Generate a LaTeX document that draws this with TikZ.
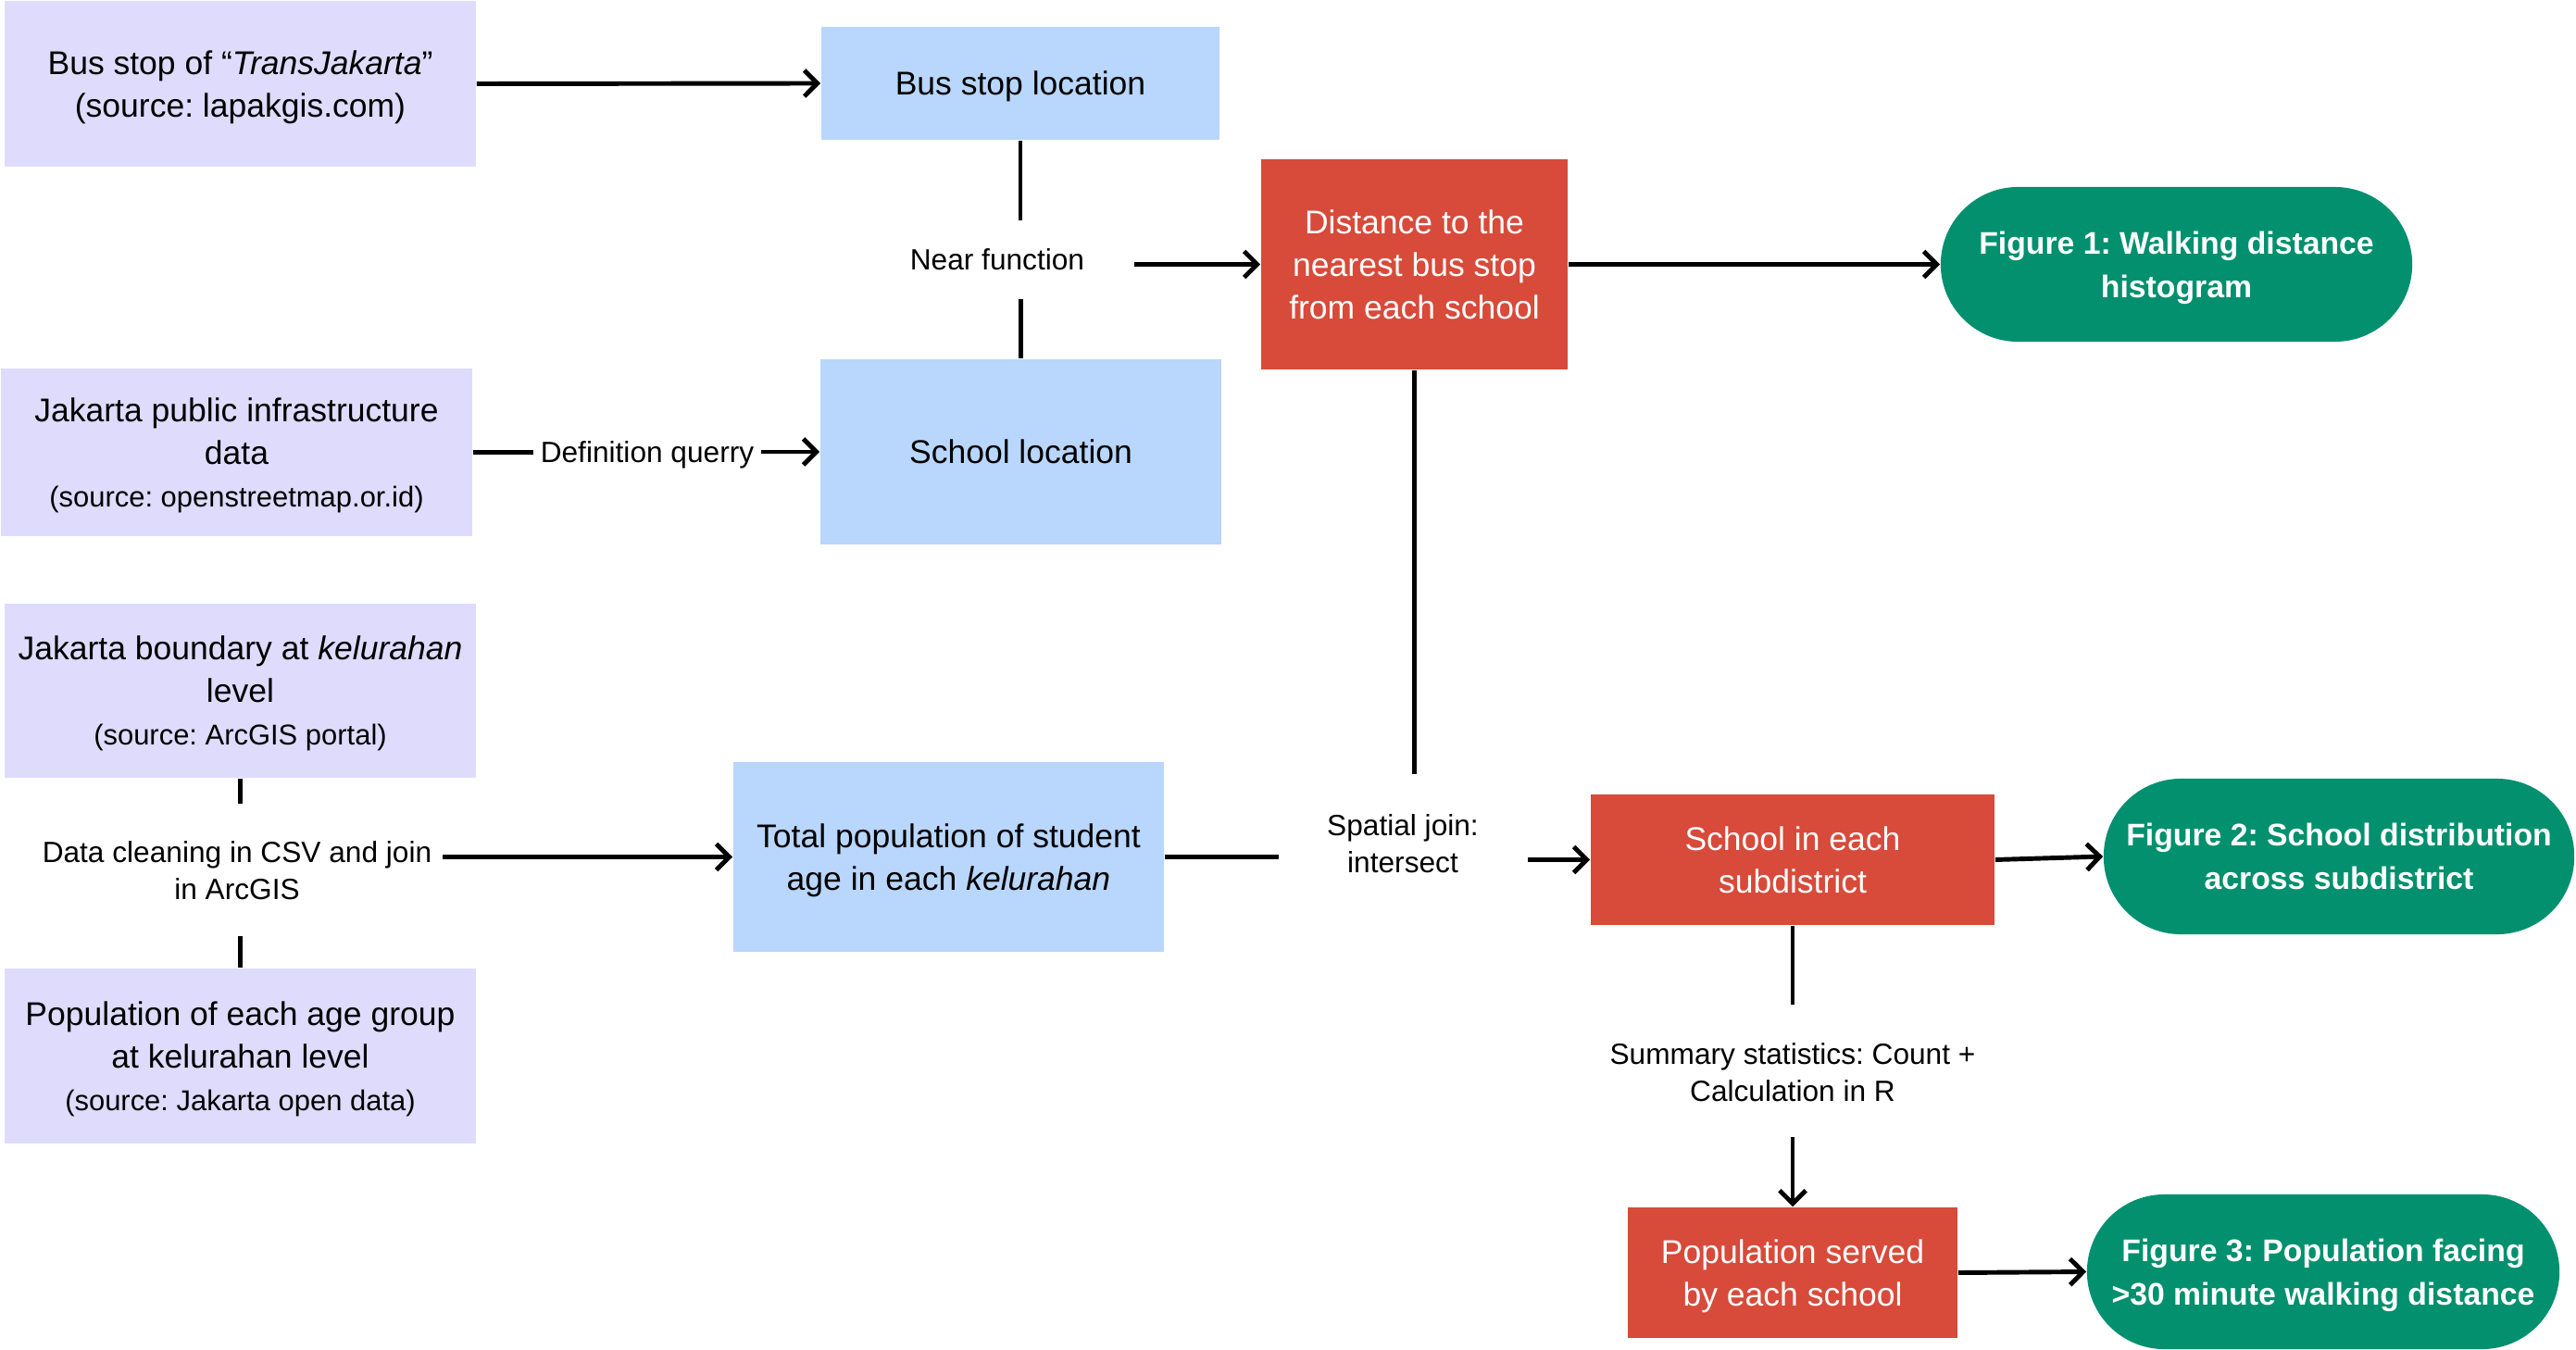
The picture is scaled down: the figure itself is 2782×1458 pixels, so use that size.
\documentclass[tikz,border=0pt]{standalone}
\usepackage{amsmath}
\usepackage{fontspec}
\setmainfont{Liberation Sans}
\usetikzlibrary{arrows.meta}
\frenchspacing
\definecolor{lavbox}{HTML}{DFDBFD}
\definecolor{skybox}{HTML}{B9D6FC}
\definecolor{brickbox}{HTML}{D84A3A}
\definecolor{figgreen}{HTML}{02906E}
\newcommand\srcsz{\fontsize{8.8}{12.9}\selectfont}
\newcommand\lastln[1]{\smash[b]{#1}}
\begin{document}
\begin{tikzpicture}[x=0.01cm,y=-0.01cm,
  basebox/.style={rectangle, draw=none, inner sep=0pt, align=center,
    font=\fontsize{10.1}{13.1}\selectfont},
  srcbox/.style={basebox, fill=lavbox, text=black},
  blubox/.style={basebox, fill=skybox, text=black},
  redbox/.style={basebox, fill=brickbox, text=white},
  pill/.style={basebox, fill=figgreen, text=white, rounded corners=0.835cm,
    font=\fontsize{9.6}{13.4}\selectfont\bfseries},
  lbl/.style={align=center, inner sep=2pt, font=\fontsize{9}{11.4}\selectfont},
  ln/.style={line width=1.4pt},
  ar/.style={line width=1.4pt, -{Straight Barb[length=4pt,width=8pt]}}]
\useasboundingbox (0,0) rectangle (2782,1458);

% boxes
\node[srcbox, minimum width=5.09cm, minimum height=1.79cm] (bsrc) at (259.5,90.5)
  {Bus stop of “\textit{TransJakarta}”\\\lastln{(source: lapakgis.com)}};
\node[blubox, minimum width=4.30cm, minimum height=1.22cm] (bloc) at (1102,90) {\lastln{Bus stop location}};
\node[blubox, minimum width=4.33cm, minimum height=2.00cm] (sloc) at (1102.5,488) {School location};
\node[srcbox, minimum width=5.09cm, minimum height=1.80cm] (infra) at (255.5,488.5)
  {Jakarta public infrastructure\\data\\{\srcsz\lastln{(source: openstreetmap.or.id)}}};
\node[srcbox, minimum width=5.09cm, minimum height=1.88cm] (bound) at (259.5,746)
  {Jakarta boundary at \textit{kelurahan}\\level\\{\srcsz\lastln{(source: ArcGIS portal)}}};
\node[srcbox, minimum width=5.09cm, minimum height=1.89cm] (popage) at (259.5,1140.5)
  {Population of each age group\\at kelurahan level\\{\srcsz\lastln{(source: Jakarta open data)}}};
\node[blubox, minimum width=4.65cm, minimum height=2.05cm] (totpop) at (1024.5,925.5)
  {Total population of student\\\lastln{age in each \textit{kelurahan}}};
\node[redbox, minimum width=3.31cm, minimum height=2.27cm] (dist) at (1527.5,285.5)
  {Distance to the\\nearest bus stop\\from each school};
\node[pill, minimum width=5.09cm, minimum height=1.67cm] (fig1) at (2350.5,285.5)
  {Figure 1: Walking distance\\\lastln{histogram}};
\node[redbox, minimum width=4.36cm, minimum height=1.41cm] (subd) at (1936,928.5)
  {School in each\\subdistrict};
\node[pill, minimum width=5.08cm, minimum height=1.68cm] (fig2) at (2526,925)
  {Figure 2: School distribution\\across subdistrict};
\node[redbox, minimum width=3.56cm, minimum height=1.41cm] (served) at (1936,1374.5)
  {Population served\\\lastln{by each school}};
\node[pill, minimum width=5.10cm, minimum height=1.67cm] (fig3) at (2509,1373.5)
  {Figure 3: Population facing\\\lastln{>30 minute walking distance}};

% labels
\node[lbl] (near) at (1077,280) {Near function};
\node[lbl] (defq) at (699,491.5) {Definition querry};
\node[lbl] (clean) at (256,940) {Data cleaning in CSV and join\\in ArcGIS};
\node[lbl] (sjoin) at (1515,911) {Spatial join:\\intersect};
\node[lbl] (summ) at (1936,1158) {Summary statistics: Count +\\Calculation in R};

% free ends
\coordinate (c1) at (1102,238);
\coordinate (c2) at (1102.5,323);
\coordinate (c3) at (1225,285.5);
\coordinate (c4) at (259.5,868);
\coordinate (c5) at (259.5,1011);
\coordinate (c6) at (478,925.5);
\coordinate (c7) at (1381,925.5);
\coordinate (c8) at (1527.5,836);
\coordinate (c9) at (1650,928.5);
\coordinate (c10) at (1936,1085);
\coordinate (c11) at (1936,1228);

% connectors
\draw[ar] (bsrc.east) -- (bloc.west);
\draw[ln] (bloc.south) -- (c1);
\draw[ln] (c2) -- (sloc.north);
\draw[ar] (c3) -- (dist.west);
\draw[ar] (dist.east) -- (fig1.west);
\draw[ln] (infra.east) -- (infra.east -| defq.west);
\draw[ar] (sloc.west -| defq.east) -- (sloc.west);
\draw[ln] (bound.south) -- (c4);
\draw[ln] (c5) -- (popage.north);
\draw[ar] (c6) -- (totpop.west);
\draw[ln] (totpop.east) -- (c7);
\draw[ln] (dist.south) -- (c8);
\draw[ar] (c9) -- (subd.west);
\draw[ar] (subd.east) -- (fig2.west);
\draw[ln] (subd.south) -- (c10);
\draw[ar] (c11) -- (served.north);
\draw[ar] (served.east) -- (fig3.west);
\end{tikzpicture}
\end{document}
